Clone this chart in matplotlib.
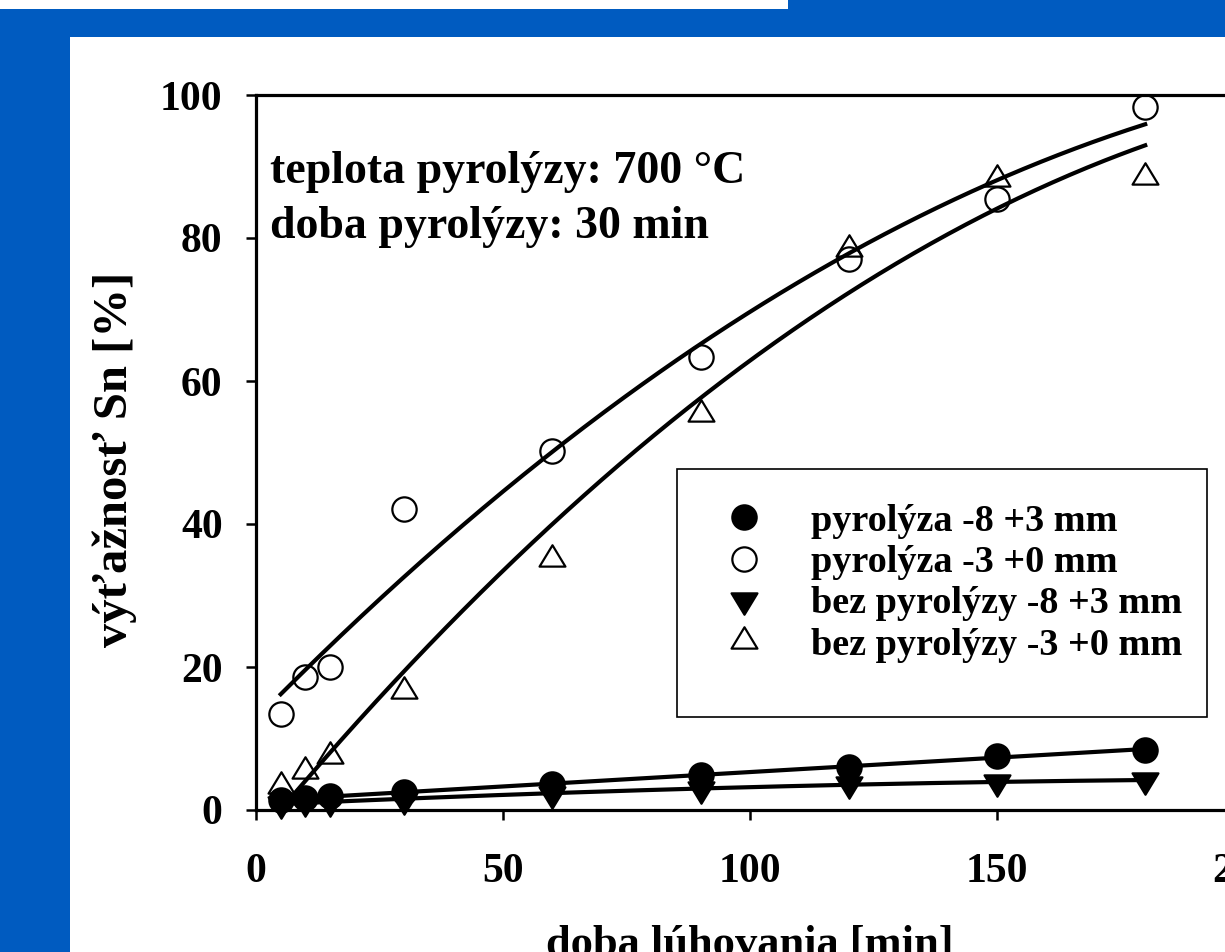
import numpy as np
import matplotlib
matplotlib.use("Agg")
import matplotlib.pyplot as plt
from matplotlib.patches import Rectangle
from matplotlib.lines import Line2D
from matplotlib.path import Path

# ---- data ----
time_min = [5, 10, 15, 30, 60, 90, 120, 150, 180]
pyr_8_3 = [1.4, 1.7, 2.0, 2.5, 3.6, 4.9, 6.0, 7.6, 8.4]
pyr_3_0 = [13.4, 18.6, 20.0, 42.1, 50.2, 63.4, 77.1, 85.4, 98.3]
bez_8_3 = [0.9, 1.1, 1.1, 1.4, 2.3, 3.0, 3.7, 3.9, 4.15]
bez_3_0 = [3.4, 5.4, 7.5, 16.6, 35.1, 55.4, 78.4, 88.2, 88.6]

labels = ["pyrolýza -8 +3 mm", "pyrolýza -3 +0 mm",
          "bez pyrolýzy -8 +3 mm", "bez pyrolýzy -3 +0 mm"]
x_ticks = [0, 50, 100, 150, 200]
y_ticks = [0, 20, 40, 60, 80, 100]
note_lines = ["teplota pyrolýzy: 700 °C", "doba pyrolýzy: 30 min"]
x_label = "doba lúhovania [min]"
y_label = "výťažnosť Sn [%]"

plt.rcParams['font.family'] = ['Liberation Serif', 'DejaVu Serif']
plt.rcParams['font.weight'] = 'bold'

W, H = 1225, 952
fig = plt.figure(figsize=(W / 100, H / 100), dpi=100)
fig.patch.set_facecolor('#005BC0')

# white slide panels
fig.add_artist(Rectangle((70 / W, 0), 1 - 70 / W, (H - 37) / H,
                         transform=fig.transFigure, facecolor='white',
                         edgecolor='none', zorder=-10))
fig.add_artist(Rectangle((0, (H - 9) / H), 788 / W, 9 / H,
                         transform=fig.transFigure, facecolor='white',
                         edgecolor='none', zorder=-10))

ax_left, ax_right = 256, 1244
ax_top, ax_bottom = 95, 810
axw, axh = ax_right - ax_left, ax_bottom - ax_top
ax = fig.add_axes([ax_left / W, (H - ax_bottom) / H, axw / W, axh / H])
ax.set_xlim(0, 200)
ax.set_ylim(0, 100)
ax.set_facecolor('white')

# triangles centred on their centroid
codes = [Path.MOVETO, Path.LINETO, Path.LINETO, Path.CLOSEPOLY]
tri_down = Path([(-1, 0.55), (1, 0.55), (0, -1.1), (-1, 0.55)], codes)
tri_up = Path([(-1, -0.55), (1, -0.55), (0, 1.1), (-1, -0.55)], codes)

series = [
    (pyr_8_3, dict(marker='o', ms=17.5, mfc='black', mec='black')),
    (pyr_3_0, dict(marker='o', ms=17.5, mfc='none', mec='black')),
    (bez_8_3, dict(marker=tri_down, ms=20.5, mfc='black', mec='black')),
    (bez_3_0, dict(marker=tri_up, ms=20.5, mfc='none', mec='black')),
]
xs = np.array(time_min, dtype=float)
xfit = np.linspace(min(time_min), max(time_min), 300)
handles = []
for (vals, st), lab in zip(series, labels):
    ax.plot(time_min, vals, linestyle='none', mew=1.6, zorder=3,
            clip_on=False, **st)
    coef = np.polyfit(xs, np.array(vals, dtype=float), 2)
    ax.plot(xfit, np.polyval(coef, xfit), color='black', lw=3.0, zorder=4)
    handles.append(Line2D([], [], linestyle='none', mew=1.6, **st))

for s in ax.spines.values():
    s.set_linewidth(2.3)
ax.set_xticks(x_ticks)
ax.set_yticks(y_ticks)
ax.tick_params(axis='both', direction='out', length=7, width=1.8,
               labelsize=30, top=False, right=False)
ax.tick_params(axis='x', pad=24)
ax.tick_params(axis='y', pad=17)
for lab in ax.get_xticklabels() + ax.get_yticklabels():
    lab.set_fontweight('bold')

ax.set_xlabel(x_label, fontsize=32, fontweight='bold')
ax.xaxis.set_label_coords(0.5, (ax_bottom - 925) / axh)
ax.xaxis.label.set_va('top')
ax.set_ylabel(y_label, fontsize=35, fontweight='bold')
ax.yaxis.set_label_coords((115 - ax_left) / axw, 0.49)
ax.yaxis.label.set_va('center')
ax.yaxis.label.set_ha('center')

ax.text((270 - ax_left) / axw, (ax_bottom - 183) / axh, note_lines[0],
        transform=ax.transAxes, fontsize=33, fontweight='bold', va='baseline')
ax.text((270 - ax_left) / axw, (ax_bottom - 238) / axh, note_lines[1],
        transform=ax.transAxes, fontsize=33, fontweight='bold', va='baseline')

# legend frame and entries
lg_l, lg_r, lg_t, lg_b = 677, 1207, 469, 717
ax.add_patch(Rectangle(((lg_l - ax_left) / axw, (ax_bottom - lg_b) / axh),
                       (lg_r - lg_l) / axw, (lg_b - lg_t) / axh,
                       transform=ax.transAxes, facecolor='white',
                       edgecolor='black', lw=1.2, zorder=5))
leg = ax.legend(handles, labels, loc='upper left',
                bbox_to_anchor=((lg_l - ax_left) / axw,
                                (ax_bottom - 473) / axh),
                prop=dict(family='Liberation Serif', weight='bold', size=27.5),
                frameon=False, borderpad=0.8, handlelength=1.9,
                handletextpad=0.8, labelspacing=0.166, borderaxespad=0,
                numpoints=1)
leg.set_zorder(6)

fig.savefig('out.png', dpi=100, facecolor=fig.get_facecolor())
